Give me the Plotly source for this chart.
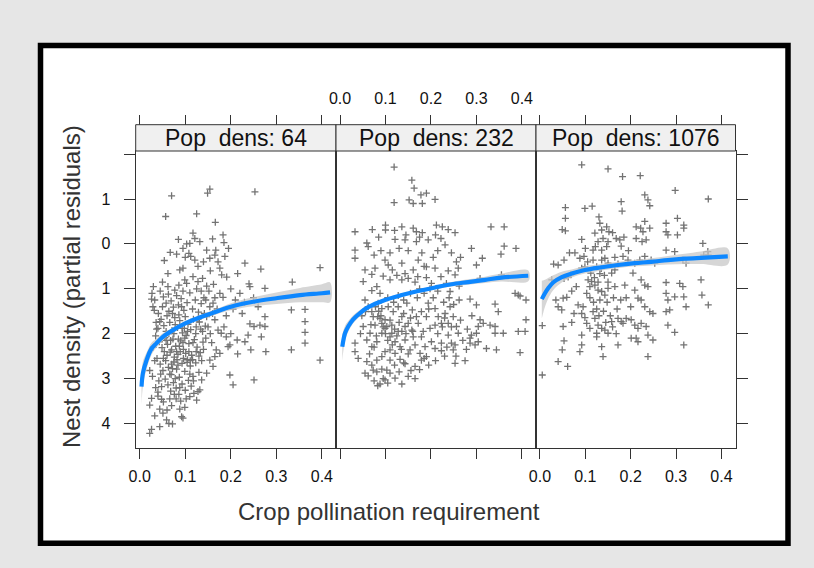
import plotly.graph_objects as go

W, H = 814, 568

# ---------------- data ----------------
panel_titles = ["Pop\u00a0\u00a0dens: 64", "Pop\u00a0\u00a0dens: 232", "Pop\u00a0\u00a0dens: 1076"]
x_tick_vals = [0.0, 0.1, 0.2, 0.3, 0.4]
x_tick_text = ["0.0", "0.1", "0.2", "0.3", "0.4"]
y_tick_vals = [-4, -3, -2, -1, 0, 1, 2]
y_tick_text = ["4", "3", "2", "1", "0", "1", ""]

p1_points = [
    (.070, 1.07), (.149, 1.13), (.154, 1.22), (.253, 1.16), (.057, .61), (.125, .67), (.166, .48),
    (.117, .24), (.121, .12), (.132, .05), (.110, .01), (.160, .11), (.183, .20), (.185, .03), (.167, -.14),
    (.147, -.14), (.154, -.32), (.172, -.40), (.187, -.28),
    (.067, -.19), (.081, -.23), (.103, 0.0), (.108, -.21), (.112, -.28), (.121, -.36),
    (.054, -.37), (.062, -.66), (.088, -.58), (.095, -.54), (.103, -.88), (.086, -.92), (.077, -1.03),
    (.099, -.80), (.117, -.73), (.128, -.84), (.138, -.77), (.147, -.94),
    (.176, -.54), (.180, -.69), (.191, -.74), (.231, -.43), (.215, -.66), (.266, -.56), (.240, -.89),
    (.242, -.95), (.275, -.99), (.335, -.85), (.396, -.53), (.176, -1.10), (.183, -1.19),
    (.333, -1.47), (.363, -1.46), (.363, -1.73), (.363, -1.97), (.363, -2.21), (.333, -2.36), (.396, -2.59),
    (.275, -1.62), (.275, -1.84), (.264, -1.81), (.267, -2.07), (.251, -1.84), (.242, -1.78), (.238, -2.03),
    (.231, -2.18), (.244, -2.36), (.277, -2.40), (.251, -3.03), (.214, -2.14), (.198, -2.25), (.205, -3.14),
    (.198, -2.92),
    (.022, -4.22), (.026, -4.13), (.044, -4.07), (.064, -4.00), (.072, -4.01), (.033, -3.83), (.051, -3.77),
    (.059, -3.92), (.088, -3.68), (.095, -3.88), (.099, -3.64), (.092, -3.85), (.022, -3.59), (.026, -3.44),
    (.040, -3.39), (.048, -3.46), (.125, -3.48), (.128, -3.29),
    (.026, -1.23), (.033, -1.25), (.029, -1.40), (.037, -1.90), (.044, -1.73), (.022, -2.82),
    (.147, -1.62), (.154, -1.40), (.161, -1.32), (.165, -1.69), (.172, -1.92), (.179, -1.99), (.190, -2.07),
    (.194, -2.29), (.168, -2.36), (.154, -2.59), (.161, -2.73), (.147, -2.88), (.136, -3.03), (.132, -3.25),
    (.165, -2.51), (.176, -2.44),
    (.045, -1.05), (.052, -1.18), (.058, -1.32), (.063, -1.12), (.069, -1.27), (.074, -1.41), (.081, -1.15),
    (.085, -1.36), (.091, -1.22), (.097, -1.48), (.104, -1.31), (.110, -1.09), (.116, -1.45), (.122, -1.25),
    (.129, -1.52), (.135, -1.33), (.141, -1.20),
    (.041, -1.55), (.047, -1.68), (.053, -1.82), (.060, -1.60), (.066, -1.75), (.071, -1.93), (.077, -1.64),
    (.083, -1.86), (.088, -1.71), (.094, -1.98), (.100, -1.62), (.106, -1.79), (.112, -1.91), (.118, -1.68),
    (.124, -1.85), (.131, -1.74), (.138, -1.95), (.144, -1.83),
    (.035, -2.05), (.043, -2.18), (.049, -2.31), (.055, -2.09), (.061, -2.24), (.067, -2.41), (.073, -2.12),
    (.079, -2.28), (.084, -2.46), (.090, -2.16), (.096, -2.35), (.102, -2.04), (.108, -2.22), (.114, -2.48),
    (.120, -2.13), (.126, -2.30), (.133, -2.42), (.139, -2.19),
    (.038, -2.55), (.045, -2.68), (.051, -2.82), (.057, -2.60), (.063, -2.75), (.069, -2.91), (.075, -2.63),
    (.081, -2.79), (.087, -2.97), (.093, -2.66), (.099, -2.84), (.105, -2.58), (.111, -2.72), (.117, -2.95),
    (.123, -2.65), (.130, -2.86),
    (.042, -3.05), (.048, -3.18), (.056, -3.01), (.062, -3.14), (.068, -3.28), (.074, -3.09), (.080, -3.21),
    (.086, -3.35), (.093, -3.12), (.100, -3.26), (.107, -3.04), (.113, -3.17), (.119, -3.33),
    (.058, -1.95), (.064, -2.00), (.076, -2.52), (.082, -2.58), (.070, -2.36), (.089, -2.40), (.095, -2.20),
    (.101, -2.44), (.078, -1.80), (.072, -1.55), (.086, -1.58), (.092, -1.40), (.066, -2.90), (.078, -3.00),
    (.060, -2.48), (.054, -2.40), (.050, -1.40), (.040, -1.88), (.098, -1.88), (.104, -2.64), (.110, -2.90),
    (.116, -2.58), (.085, -2.12), (.070, -2.68), (.090, -3.50), (.070, -3.60), (.080, -3.45), (.060, -3.70),
    (.110, -3.40), (.130, -2.50), (.140, -2.35), (.145, -2.10), (.150, -1.85), (.155, -2.00), (.158, -2.20),
    (.160, -1.55), (.165, -1.20), (.170, -1.45), (.152, -1.05), (.145, -1.25), (.135, -1.05), (.125, -1.00),
    (.095, -1.05), (.062, -0.95), (.050, -0.85), (.030, -0.95), (.027, -1.10), (.032, -1.48), (.036, -1.75),
    (.030, -2.30), (.033, -2.60), (.028, -2.95), (.035, -3.20), (.040, -3.30), (.052, -3.52), (.044, -3.68),
    (.095, -.10), (.085, .10), (.100, -.30), (.128, -.50), (.140, -.40), (.155, -.60), (.162, -.90),
    (.165, -.25), (.195, -.10), (.200, -1.00), (.210, -1.25), (.220, -1.10), (.205, -1.45), (.225, -1.55),
    (.190, -1.60), (.185, -1.85), (.200, -2.00), (.215, -2.45), (.230, -1.30), (.250, -1.20), (.260, -1.40),
    (.064, -1.50), (.068, -2.15), (.075, -2.00), (.081, -2.40), (.087, -2.28), (.093, -1.88), (.099, -2.10),
    (.105, -1.95), (.111, -2.60), (.117, -2.20), (.123, -2.00), (.072, -2.78), (.084, -2.70), (.096, -2.55),
    (.108, -2.40), (.058, -2.15), (.052, -2.55), (.046, -2.90), (.066, -3.45), (.076, -3.35), (.088, -3.20),
    (.102, -3.45), (.118, -3.05), (.128, -1.68), (.134, -1.90), (.142, -1.55), (.136, -2.60), (.124, -2.40),
]

p2_points = [
    (.119, 1.71), (.158, 1.42), (.163, 1.24), (.178, 1.09), (.190, 1.13), (.119, .92), (.152, .98),
    (.161, .90), (.181, .90), (.209, .99),
    (.033, .27), (.071, .32), (.100, .42), (.100, .31), (.136, .38), (.161, .35), (.168, .27), (.181, .25),
    (.212, .42), (.225, .38), (.238, .32), (.253, .25), (.332, .38), (.361, .38),
    (.033, -.14), (.033, -.32), (.059, .02), (.062, -.06), (.121, .10), (.143, .09), (.168, .05), (.194, .09),
    (.222, .12), (.231, -.02), (.289, -.10), (.313, -.32), (.361, -.05), (.354, -.23), (.387, -.10), (.300, -.47),
    (.055, -.58), (.077, -.54), (.099, -.36), (.106, -.47), (.115, -.58), (.136, -.43), (.143, -.66),
    (.161, -.58), (.172, -.36), (.190, -.51), (.209, -.54), (.222, -.73), (.238, -.60), (.256, -.40),
    (.260, -.54), (.253, -.69),
    (.051, -.84), (.070, -1.04), (.081, -.95), (.088, -1.10), (.110, -.80), (.136, -.80), (.150, -.77),
    (.171, -.73), (.201, -.88), (.234, -.88), (.242, -1.06), (.262, -.94), (.308, -.77), (.355, -.69),
    (.385, -1.10), (.392, -1.14), (.396, -1.16), (.286, -1.23), (.300, -1.36), (.341, -1.34), (.348, -1.51),
    (.409, -1.25),
    (.055, -1.25), (.062, -1.40), (.056, -1.51), (.084, -1.32), (.092, -1.44), (.073, -1.62), (.106, -1.40),
    (.117, -1.51), (.128, -1.40), (.136, -1.62), (.147, -1.32), (.159, -1.47), (.168, -1.62), (.179, -1.51),
    (.194, -1.32), (.209, -1.44), (.216, -1.62), (.231, -1.55), (.242, -1.40), (.249, -1.62), (.256, -1.84),
    (.260, -1.99), (.209, -1.81), (.198, -1.88), (.183, -1.95), (.172, -1.77), (.158, -1.92), (.143, -1.84),
    (.128, -1.95), (.114, -1.81), (.099, -1.69), (.088, -1.66), (.077, -1.81), (.066, -1.99), (.059, -2.14),
    (.051, -1.84), (.033, -2.21), (.033, -2.40), (.070, -2.29), (.081, -2.18), (.092, -1.99), (.103, -1.84),
    (.110, -2.07), (.121, -2.18), (.132, -2.29), (.143, -2.14), (.154, -2.36), (.165, -2.25), (.176, -2.44),
    (.187, -2.29), (.201, -2.18), (.209, -2.33), (.223, -2.21), (.238, -2.03), (.245, -2.21), (.253, -2.25),
    (.249, -2.36), (.223, -2.38), (.190, -2.51), (.179, -2.59), (.165, -2.73), (.156, -2.82), (.143, -2.67),
    (.132, -2.57), (.121, -2.44), (.110, -2.36), (.099, -2.40), (.092, -2.51), (.081, -2.59), (.070, -2.70),
    (.059, -2.62), (.055, -2.88), (.062, -2.94), (.073, -2.81), (.081, -2.85), (.092, -2.79), (.103, -2.81),
    (.110, -2.88), (.121, -2.99), (.136, -3.12), (.088, -3.12), (.083, -3.16), (.099, -3.03), (.110, -2.59),
    (.114, -1.99), (.099, -1.88), (.092, -1.77), (.083, -1.62), (.070, -1.51), (.136, -1.95), (.150, -1.77),
    (.161, -2.07), (.179, -2.07), (.190, -1.62), (.223, -1.77), (.238, -1.77), (.253, -2.66), (.286, -2.10),
    (.286, -2.21), (.304, -2.18), (.297, -2.25), (.322, -2.33), (.300, -1.99), (.308, -1.69), (.315, -1.77),
    (.330, -1.81), (.341, -1.84), (.341, -1.99), (.359, -1.99), (.392, -1.95), (.407, -1.95), (.409, -1.69),
    (.396, -2.42), (.344, -2.36), (.304, -1.84), (.289, -2.03), (.278, -2.35),
    (.085, -1.50), (.090, -1.60), (.095, -1.85), (.100, -2.00), (.105, -2.15), (.110, -1.70), (.115, -2.25),
    (.120, -1.90), (.125, -2.05), (.130, -1.75), (.135, -2.35), (.140, -1.55), (.145, -2.00), (.150, -2.45),
    (.155, -1.65), (.160, -1.95), (.075, -2.30), (.080, -2.05), (.068, -1.80), (.078, -1.40), (.105, -1.20),
    (.118, -1.30), (.128, -1.15), (.140, -1.25), (.155, -1.10), (.170, -1.20), (.185, -1.10), (.195, -1.45),
    (.205, -1.20), (.215, -1.05), (.228, -1.30), (.240, -1.20), (.250, -1.35), (.262, -1.25), (.175, -1.00),
    (.190, -.75), (.205, -.30), (.215, -.15), (.180, -.20), (.150, -.15), (.130, -.10), (.110, -.20),
    (.090, -.15), (.075, -.25), (.185, -.50), (.165, -.85), (.125, -.70), (.095, -.72), (.070, -.68),
    (.245, -.20), (.265, -.30), (.210, .20), (.175, .15), (.145, .20), (.120, .30), (.085, .15), (.198, -1.00),
    (.230, -1.65), (.245, -1.85), (.265, -1.70), (.270, -2.15), (.255, -2.50), (.230, -2.50), (.210, -2.60),
    (.195, -2.70), (.175, -2.80), (.150, -2.95), (.120, -2.70), (.095, -3.00), (.075, -3.05), (.105, -3.10),
    (.065, -2.45), (.045, -2.00), (.048, -1.60), (.040, -2.55), (.140, -2.65), (.130, -2.85), (.165, -3.00),
    (.185, -2.55), (.215, -2.00), (.225, -1.85), (.235, -2.30), (.290, -1.60), (.280, -1.90), (.275, -2.60),
]

p3_points = [
    (.092, 1.76), (.150, 1.67), (.182, 1.50), (.221, 1.52), (.298, 1.19), (.371, 1.00), (.231, 1.09),
    (.238, .98), (.242, .85), (.179, .94), (.181, .73), (.056, .81), (.056, .57), (.099, .79), (.115, .84),
    (.049, .32), (.056, .29),
    (.212, .38), (.222, .35), (.231, .50), (.227, .27), (.242, .35), (.234, .09), (.225, .05), (.212, .12),
    (.278, .46), (.278, .27), (.282, .20), (.303, .57), (.303, .20), (.317, .42), (.317, .35), (.359, .01),
    (.371, -.25), (.361, -.25), (.370, -.17),
    (.132, .46), (.136, .31), (.147, .38), (.152, .27), (.121, .24), (.128, .05), (.139, .12), (.150, .05),
    (.168, .12), (.176, .09), (.179, -.05), (.147, -.06), (.136, -.14), (.122, -.06), (.092, .10),
    (.117, -.14), (.097, -.28),
    (.077, -.20), (.053, -.36), (.040, -.47), (.026, -.80), (.053, -.77), (.062, -.74), (.068, -.69),
    (.088, -.32), (.092, -.54), (.099, -.51), (.106, -.80), (.117, -.36), (.125, -.51), (.132, -.66),
    (.136, -.36), (.143, -.32), (.150, -.43), (.165, -.58), (.183, -.28), (.194, -.36), (.209, -.43),
    (.220, -.36), (.231, -.28), (.245, -.36), (.253, -.43), (.278, -.14), (.297, -.17), (.315, -.36),
    (.322, -.43),
    (.040, -1.40), (.051, -1.21), (.059, -1.19), (.048, -1.47), (.084, -1.36), (.095, -1.40), (.103, -1.10),
    (.110, -.95), (.114, -.84), (.121, -.92), (.128, -1.03), (.136, -1.06), (.143, -1.14), (.150, -.99),
    (.165, -.95), (.187, -.92), (.209, -1.03), (.223, -.80), (.231, -.92), (.238, -.95), (.216, -1.21),
    (.223, -1.25), (.231, -1.40), (.242, -1.51), (.249, -1.55), (.278, -.86), (.278, -1.10), (.282, -1.25),
    (.297, -1.18), (.308, -.88), (.315, -.95), (.317, -1.18), (.322, -1.40), (.355, -.80), (.357, -1.14),
    (.371, -1.36), (.278, -1.51), (.286, -1.47),
    (.070, -1.75), (.092, -1.55), (.099, -1.64), (.103, -1.77), (.110, -1.88), (.117, -1.51), (.121, -1.66),
    (.128, -1.81), (.136, -1.88), (.143, -1.92), (.150, -1.99), (.158, -1.73), (.172, -1.66), (.179, -1.73),
    (.183, -1.77), (.190, -1.66), (.201, -1.69), (.209, -1.81), (.216, -1.88), (.223, -1.77), (.234, -1.84),
    (.238, -2.03), (.249, -2.14), (.282, -1.81), (.297, -1.97), (.317, -2.25), (.051, -1.84), (.053, -2.16),
    (.049, -2.36), (.092, -2.03), (.092, -2.25), (.088, -2.40), (.125, -1.99), (.125, -2.07), (.136, -2.29),
    (.139, -2.51), (.172, -2.25), (.201, -2.10), (.212, -2.10), (.216, -2.18), (.238, -2.51), (.040, -2.62),
    (.061, -2.73), (.005, -1.82), (.005, -2.92),
    (.105, -.40), (.112, -.65), (.120, -.75), (.128, -.85), (.135, -.55), (.142, -.70), (.150, -.85),
    (.158, -.65), (.165, -.30), (.172, -.45), (.110, -1.20), (.118, -1.30), (.125, -1.45), (.132, -1.25),
    (.140, -1.50), (.148, -1.30), (.155, -1.60), (.162, -1.20), (.170, -1.45), (.178, -1.25), (.160, -1.85),
    (.168, -2.00), (.145, -1.75), (.130, -1.60), (.190, -1.20), (.200, -1.40), (.205, -.65), (.195, -.15),
    (.185, .15), (.160, .25), (.130, .60), (.100, -.10), (.080, -.95), (.070, -1.05), (.065, -.20),
    (.030, -.45), (.035, -1.25), (.075, -1.55),
]

p1_fit_x = [0.004, 0.007, 0.015, 0.026, 0.037, 0.051, 0.073, 0.10, 0.139, 0.168, 0.20, 0.249, 0.30, 0.352, 0.40, 0.418]
p1_fit_y = [-3.18, -2.88, -2.59, -2.33, -2.21, -2.07, -1.92, -1.77, -1.61, -1.51, -1.40, -1.29, -1.21, -1.14, -1.10, -1.08]
p1_lo = [-3.58, -3.18, -2.79, -2.47, -2.31, -2.15, -1.98, -1.82, -1.66, -1.57, -1.48, -1.39, -1.34, -1.30, -1.30, -1.30]
p1_hi = [-2.90, -2.62, -2.42, -2.20, -2.11, -1.99, -1.86, -1.72, -1.56, -1.45, -1.32, -1.19, -1.08, -0.98, -0.90, -0.86]

p2_fit_x = [0.005, 0.011, 0.018, 0.029, 0.044, 0.062, 0.099, 0.136, 0.172, 0.209, 0.245, 0.282, 0.319, 0.355, 0.414]
p2_fit_y = [-2.29, -1.99, -1.84, -1.68, -1.54, -1.41, -1.25, -1.14, -1.05, -0.97, -0.90, -0.85, -0.80, -0.75, -0.71]
p2_lo = [-2.60, -2.16, -1.96, -1.77, -1.61, -1.46, -1.29, -1.18, -1.09, -1.01, -0.95, -0.91, -0.87, -0.84, -0.83]
p2_hi = [-2.02, -1.83, -1.72, -1.59, -1.47, -1.36, -1.21, -1.10, -1.01, -0.93, -0.85, -0.79, -0.73, -0.66, -0.59]

p3_fit_x = [0.004, 0.011, 0.018, 0.029, 0.048, 0.070, 0.099, 0.136, 0.172, 0.209, 0.245, 0.282, 0.319, 0.355, 0.414]
p3_fit_y = [-1.23, -1.10, -0.99, -0.86, -0.74, -0.66, -0.58, -0.52, -0.47, -0.43, -0.40, -0.36, -0.33, -0.31, -0.28]
p3_lo = [-1.66, -1.40, -1.22, -1.03, -0.86, -0.75, -0.66, -0.59, -0.54, -0.50, -0.48, -0.46, -0.45, -0.45, -0.46]
p3_hi = [-0.82, -0.80, -0.76, -0.70, -0.62, -0.57, -0.50, -0.45, -0.40, -0.36, -0.32, -0.27, -0.22, -0.17, -0.10]

# ---------------- layout helpers ----------------
FONT = "Liberation Sans, Arial, sans-serif"
def fx(p):
    return p / W
def fy(p):
    return 1 - p / H

panel_left = [135.7, 336.0, 536.0]
panel_right = [336.0, 536.0, 735.5]
plot_top, plot_bot = 151.0, 448.0
strip_top = 124.7
x_range = [-0.0088, 0.431]
y_range = [-4.546, 2.069]
LINE = "#333333"

fig = go.Figure()

panels = [
    (p1_points, p1_fit_x, p1_fit_y, p1_lo, p1_hi),
    (p2_points, p2_fit_x, p2_fit_y, p2_lo, p2_hi),
    (p3_points, p3_fit_x, p3_fit_y, p3_lo, p3_hi),
]
for i, (pts, fxv, fyv, lo, hi) in enumerate(panels):
    xa = "x" if i == 0 else f"x{i+1}"
    ya = "y" if i == 0 else f"y{i+1}"
    px_, py_ = zip(*pts)
    fig.add_trace(go.Scatter(
        x=list(px_), y=list(py_), mode="markers", xaxis=xa, yaxis=ya,
        marker=dict(symbol="cross-thin", size=5, line=dict(width=1.3, color="#737373"), color="#737373"),
        showlegend=False, hoverinfo="skip"))
    fig.add_trace(go.Scatter(
        x=list(fxv) + list(fxv)[::-1], y=list(hi) + list(lo)[::-1], mode="lines", fill="toself",
        fillcolor="rgba(200,200,200,0.75)", line=dict(width=0, shape="spline"), xaxis=xa, yaxis=ya,
        showlegend=False, hoverinfo="skip"))
    fig.add_trace(go.Scatter(
        x=fxv, y=fyv, mode="lines", line=dict(color="#0d87ff", width=4.2, shape="spline"),
        xaxis=xa, yaxis=ya, showlegend=False, hoverinfo="skip"))

# empty traces so the top tick axes exist (each overlays its own panel)
for k, ya in ((4, "y"), (5, "y2"), (6, "y3")):
    fig.add_trace(go.Scatter(x=[None], y=[None], xaxis=f"x{k}", yaxis=ya, showlegend=False, hoverinfo="skip"))

tickfont = dict(family=FONT, size=16, color="#111111")
layout = dict(
    width=W, height=H, margin=dict(l=0, r=0, t=0, b=0, autoexpand=False),
    paper_bgcolor="#e6e6e6", plot_bgcolor="rgba(0,0,0,0)", showlegend=False,
)
for i in range(3):
    key = "xaxis" if i == 0 else f"xaxis{i+1}"
    layout[key] = dict(
        domain=[fx(panel_left[i]), fx(panel_right[i])], range=x_range, anchor="y" if i == 0 else f"y{i+1}",
        tickmode="array", tickvals=x_tick_vals, ticktext=x_tick_text, ticks="outside", ticklen=10,
        tickcolor=LINE, tickwidth=1, showticklabels=(i != 1), tickfont=tickfont,
        showline=True, linecolor=LINE, linewidth=1, mirror=True, showgrid=False, zeroline=False,
        ticklabelstandoff=4, automargin=False,
    )
    top_key = f"xaxis{i+4}"
    layout[top_key] = dict(
        overlaying="x" if i == 0 else f"x{i+1}", side="top", anchor="free", position=fy(strip_top),
        range=x_range, tickmode="array", tickvals=x_tick_vals, ticktext=x_tick_text, ticks="outside",
        ticklen=10, tickcolor=LINE, tickwidth=1, showticklabels=(i == 1), tickfont=tickfont,
        showline=False, showgrid=False, zeroline=False, ticklabelstandoff=4, automargin=False,
    )
    ykey = "yaxis" if i == 0 else f"yaxis{i+1}"
    ydict = dict(
        domain=[fy(plot_bot), fy(plot_top)], range=y_range, anchor="x" if i == 0 else f"x{i+1}",
        tickmode="array", tickvals=y_tick_vals, ticktext=y_tick_text,
        showline=True, linecolor=LINE, linewidth=1, mirror=True, showgrid=False, zeroline=False,
        tickfont=tickfont, tickcolor=LINE, tickwidth=1, automargin=False,
    )
    if i == 0:
        ydict.update(ticks="outside", ticklen=11, showticklabels=True, ticklabelstandoff=10)
    elif i == 1:
        ydict.update(ticks="", showticklabels=False)
    else:
        ydict.update(ticks="outside", ticklen=11, showticklabels=False, side="right")
    layout[ykey] = ydict

shapes = [dict(type="rect", xref="paper", yref="paper", x0=fx(40.5), x1=fx(788.0), y0=fy(543.3), y1=fy(45.5),
               line=dict(color="black", width=5.5), fillcolor="white", layer="below")]
annotations = []
for i in range(3):
    shapes.append(dict(type="rect", xref="paper", yref="paper", x0=fx(panel_left[i]), x1=fx(panel_right[i]),
                       y0=fy(plot_top), y1=fy(strip_top), line=dict(color=LINE, width=1), fillcolor="#f0f0f0"))
    annotations.append(dict(xref="paper", yref="paper", x=fx((panel_left[i] + panel_right[i]) / 2),
                            y=fy((plot_top + strip_top) / 2), text=panel_titles[i], showarrow=False,
                            xanchor="center", yanchor="middle", font=dict(family=FONT, size=23, color="#111111")))
annotations.append(dict(xref="paper", yref="paper", x=fx(389), y=fy(511), text="Crop pollination requirement",
                        showarrow=False, xanchor="center", yanchor="middle",
                        font=dict(family=FONT, size=24, color="#333333")))
annotations.append(dict(xref="paper", yref="paper", x=fx(71), y=fy(287), text="Nest density (partial residuals)",
                        showarrow=False, xanchor="center", yanchor="middle", textangle=-90,
                        font=dict(family=FONT, size=24, color="#333333")))
layout["shapes"] = shapes
layout["annotations"] = annotations
fig.update_layout(**layout)

fig.write_html("out.html")
